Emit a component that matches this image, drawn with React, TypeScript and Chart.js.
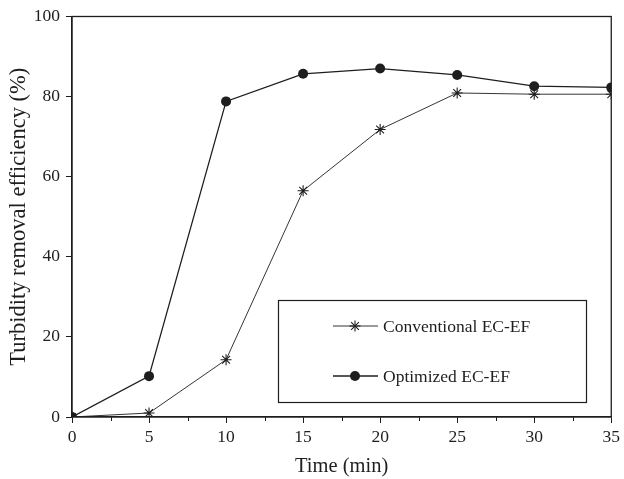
import React, { useEffect, useRef } from "react";
import { Chart, registerables } from "chart.js";

Chart.register(...registerables);

// Reaction time (min)
const timeMin = [0, 5, 10, 15, 20, 25, 30, 35];
// Turbidity removal efficiency (%)
const conventional = [0, 1, 14.3, 56.5, 71.8, 80.9, 80.6, 80.6];
const optimized = [0, 10.2, 78.8, 85.7, 87.0, 85.4, 82.6, 82.3];

const seriesNames = ["Conventional EC-EF", "Optimized EC-EF"];
const xTitle = "Time (min)";
const yTitle = "Turbidity removal efficiency (%)";

const FONT = "'Liberation Serif', 'Times New Roman', serif";
const INK = "#1e1e1e";

// Frame on all four sides, minor ticks on the time axis, and the boxed legend
const framePlugin = {
  id: "frameAndLegend",
  afterDraw(chart: any) {
    const { ctx, chartArea: a, scales } = chart;
    ctx.save();
    ctx.strokeStyle = INK;
    ctx.lineWidth = 1.3;
    ctx.strokeRect(a.left, a.top, a.right - a.left, a.bottom - a.top);

    // minor ticks halfway between major time ticks
    const xs = scales.x;
    ctx.lineWidth = 1;
    for (let v = 2.5; v < 35; v += 5) {
      const px = Math.round(xs.getPixelForValue(v)) + 0.5;
      ctx.beginPath();
      ctx.moveTo(px, a.bottom);
      ctx.lineTo(px, a.bottom + 4);
      ctx.stroke();
    }

    // legend box
    const bx = 278, by = 300, bw = 308, bh = 102;
    ctx.lineWidth = 1.2;
    ctx.strokeRect(bx + 0.5, by + 0.5, bw, bh);
    const rows = [
      { y: 326, style: "star", width: 0.9, r: 5.5 },
      { y: 376, style: "circle", width: 1.3, r: 5 },
    ];
    rows.forEach((row, i) => {
      ctx.strokeStyle = INK;
      ctx.fillStyle = INK;
      ctx.lineWidth = row.width;
      ctx.beginPath();
      ctx.moveTo(333, row.y);
      ctx.lineTo(378, row.y);
      ctx.stroke();
      if (row.style === "circle") {
        ctx.beginPath();
        ctx.arc(355, row.y, row.r, 0, Math.PI * 2);
        ctx.fill();
      } else {
        ctx.lineWidth = 1.1;
        for (let k = 0; k < 4; k++) {
          const ang = (k * Math.PI) / 4;
          ctx.beginPath();
          ctx.moveTo(355 - Math.cos(ang) * row.r, row.y - Math.sin(ang) * row.r);
          ctx.lineTo(355 + Math.cos(ang) * row.r, row.y + Math.sin(ang) * row.r);
          ctx.stroke();
        }
      }
      ctx.font = `17.5px ${FONT}`;
      ctx.textBaseline = "middle";
      ctx.textAlign = "left";
      ctx.fillText(seriesNames[i], 383, row.y + 1);
    });
    ctx.restore();
  },
};

export default function App() {
  const canvasRef = useRef<HTMLCanvasElement | null>(null);

  useEffect(() => {
    document.body.style.margin = "0";
    const canvas = canvasRef.current;
    if (!canvas) return;

    const chart = new Chart(canvas, {
      type: "line",
      data: {
        datasets: [
          {
            label: seriesNames[0],
            data: timeMin.map((t, i) => ({ x: t, y: conventional[i] })),
            borderColor: INK,
            backgroundColor: INK,
            borderWidth: 0.9,
            pointStyle: "star",
            pointRadius: 5.5,
            pointBorderWidth: 1.1,
            pointBorderColor: INK,
            tension: 0,
          },
          {
            label: seriesNames[1],
            data: timeMin.map((t, i) => ({ x: t, y: optimized[i] })),
            borderColor: INK,
            backgroundColor: INK,
            borderWidth: 1.3,
            pointStyle: "circle",
            pointRadius: 5,
            pointBorderWidth: 0,
            pointBackgroundColor: INK,
            tension: 0,
          },
        ],
      },
      options: {
        animation: false,
        responsive: false,
        layout: { padding: { top: 13, right: 12, left: 0, bottom: 0 } },
        plugins: {
          legend: { display: false },
          tooltip: { enabled: false },
        },
        scales: {
          x: {
            type: "linear",
            min: 0,
            max: 35,
            ticks: {
              stepSize: 5,
              color: INK,
              font: { family: FONT, size: 17.5 },
              padding: 4,
            },
            grid: {
              drawOnChartArea: false,
              tickLength: 6,
              color: INK,
              tickWidth: 1,
            },
            border: { display: true, color: INK, width: 1.3 },
            title: {
              display: true,
              text: xTitle,
              color: INK,
              font: { family: FONT, size: 20.5 },
              padding: { top: 0, bottom: 0 },
            },
            afterFit(scale: any) {
              scale.height = 62;
            },
          },
          y: {
            min: 0,
            max: 100,
            ticks: {
              stepSize: 20,
              color: INK,
              font: { family: FONT, size: 17.5 },
              padding: 6,
            },
            grid: {
              drawOnChartArea: false,
              tickLength: 6,
              color: INK,
              tickWidth: 1,
            },
            border: { display: true, color: INK, width: 1.3 },
            title: {
              display: true,
              text: yTitle,
              color: INK,
              font: { family: FONT, size: 22.5 },
              padding: { top: 6, bottom: 0 },
            },
            afterFit(scale: any) {
              scale.width = 72;
            },
          },
        },
      },
      plugins: [framePlugin],
    });

    return () => chart.destroy();
  }, []);

  return (
    <div style={{ width: 624, height: 479 }}>
      <canvas ref={canvasRef} width={624} height={479} style={{ display: "block" }} />
    </div>
  );
}
